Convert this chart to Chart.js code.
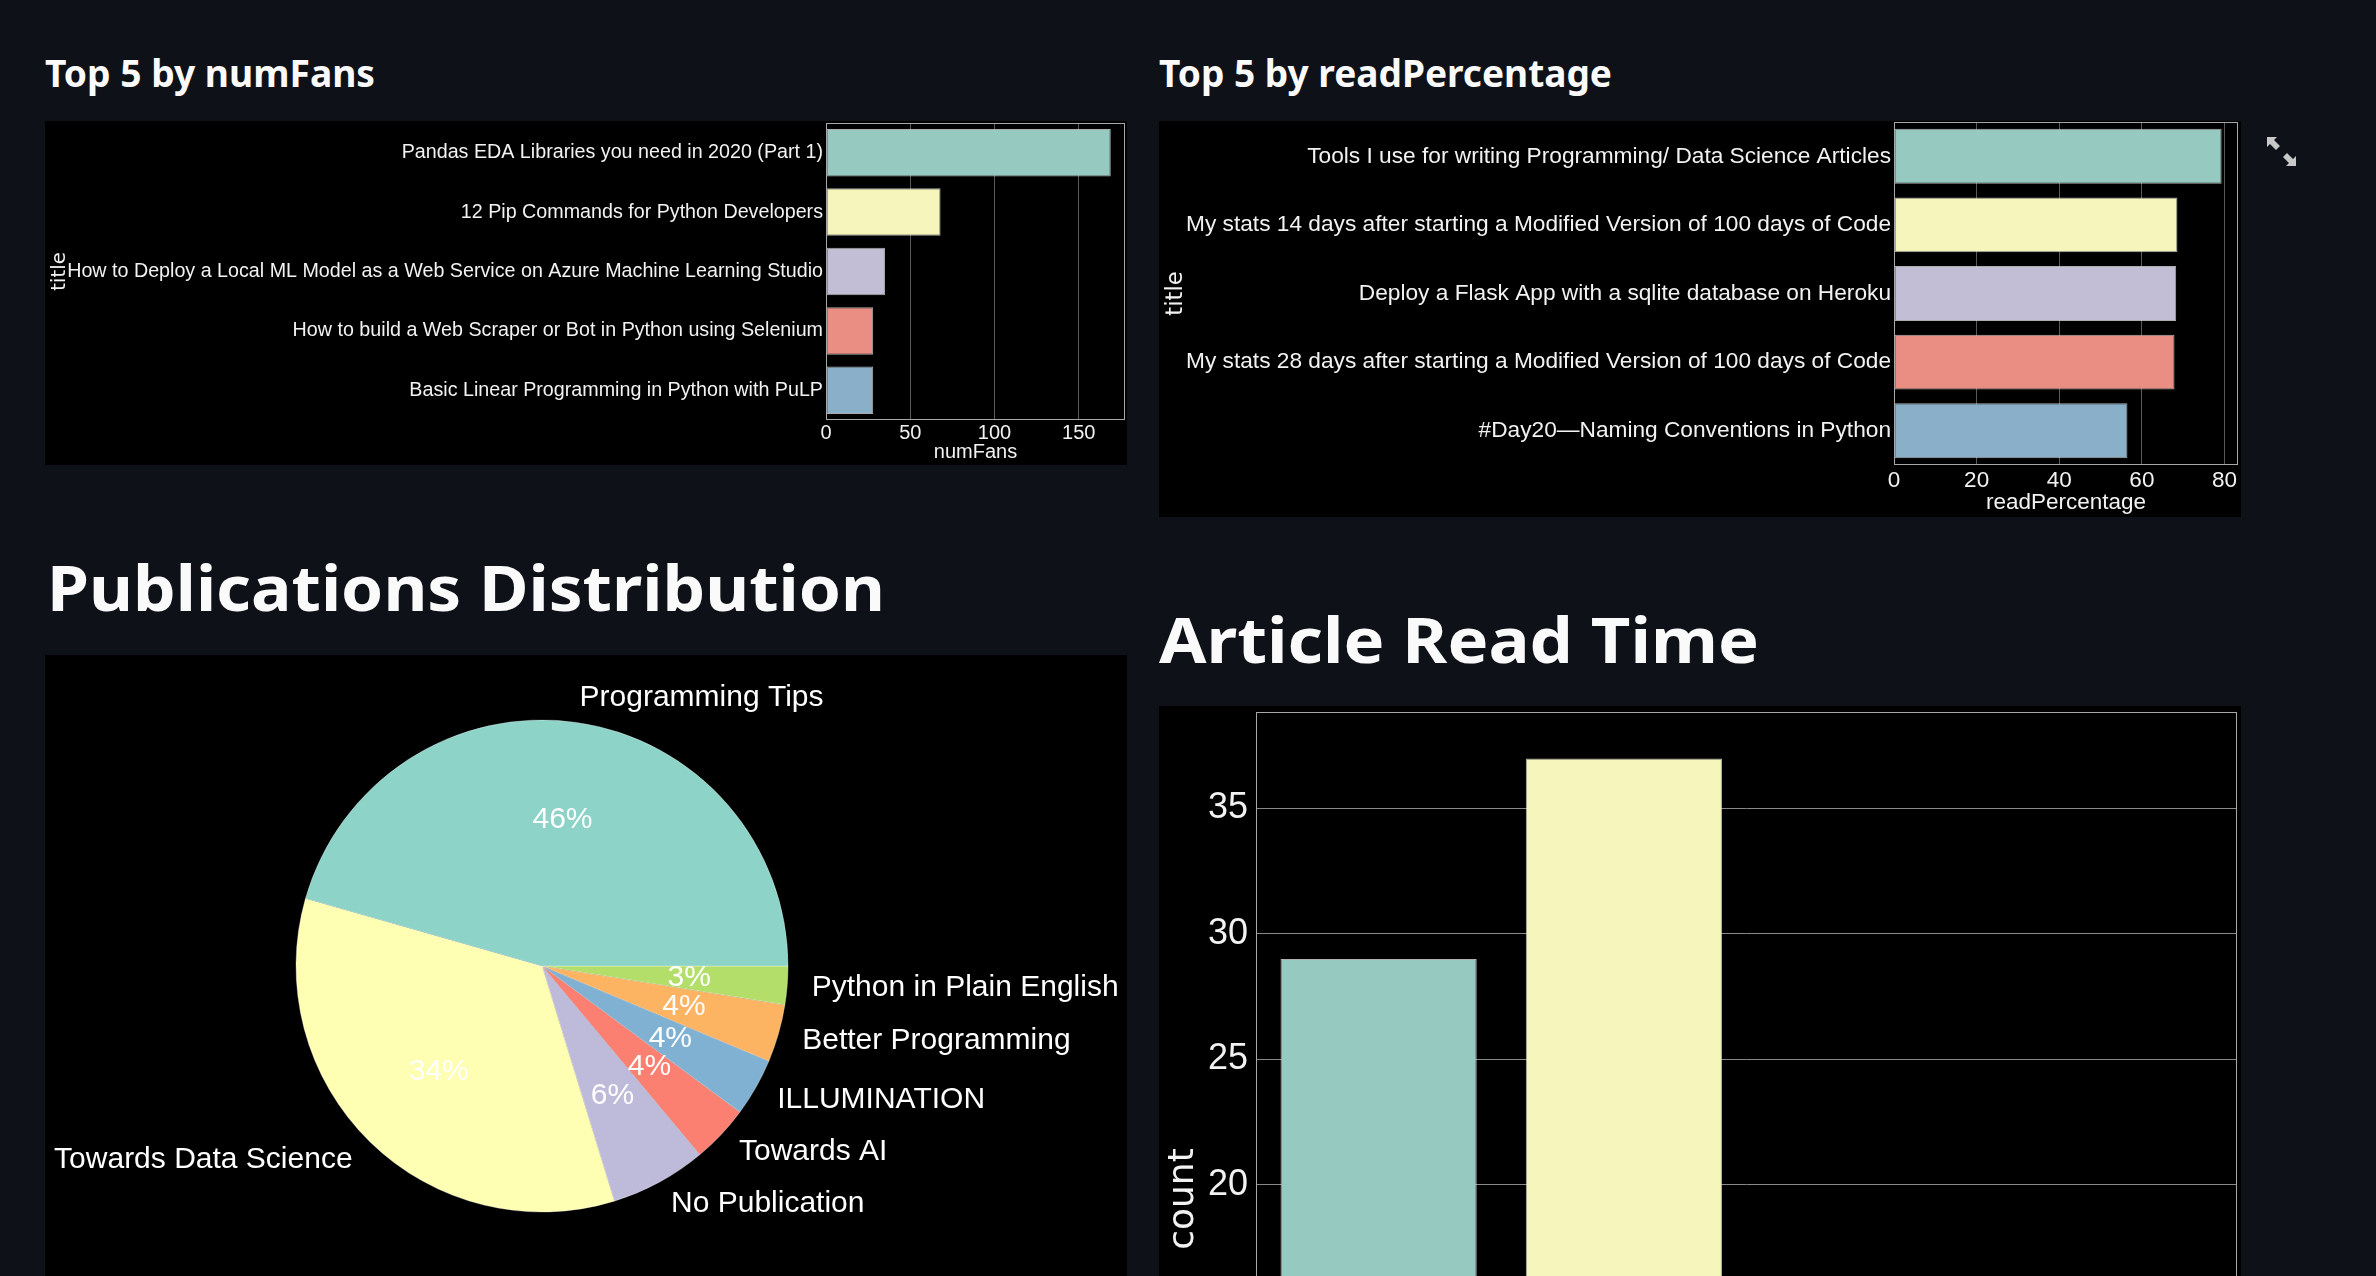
<!DOCTYPE html>
<html>
<head>
<meta charset="utf-8">
<script src="https://cdn.jsdelivr.net/npm/chart.js@4.4.1/dist/chart.umd.min.js"></script>
<style>
  html, body { margin: 0; padding: 0; }
  body {
    width: 2376px; height: 1276px; overflow: hidden; position: relative;
    background: #0e1117; color: #fafafa;
    font-family: "Noto Sans", "Open Sans", sans-serif;
  }
  .hd {
    position: absolute; margin: 0; white-space: nowrap; line-height: 1;
    font-weight: 700; transform-origin: 0 0; display: inline-block;
  }
  .h3 { font-size: 38px; }
  .h1 { font-size: 62px; }
  canvas { position: absolute; background: #000; }
  #expand { position: absolute; left: 2267px; top: 137px; }
</style>
</head>
<body>
<div class="hd h3" id="t1" style="left:45px; top:53px" data-w="330">Top 5 by numFans</div>
<div class="hd h3" id="t2" style="left:1159px; top:53px" data-w="453">Top 5 by readPercentage</div>
<div class="hd h1" id="t3" style="left:47px; top:556px" data-w="838">Publications Distribution</div>
<div class="hd h1" id="t4" style="left:1159px; top:608px" data-w="600">Article Read Time</div>

<canvas id="fans" width="1082" height="344" style="left:45px; top:121px"></canvas>
<canvas id="reads" width="1082" height="396" style="left:1159px; top:121px"></canvas>
<canvas id="pubs" width="1082" height="660" style="left:45px; top:655px"></canvas>
<canvas id="readTime" width="1082" height="1076" style="left:1159px; top:706px"></canvas>

<svg id="expand" width="30" height="30" viewBox="0 0 30 30">
  <polygon fill="#c8c8c8" points="0,0 10,0 7,3 13,9 9,13 3,7 0,10"/>
  <polygon fill="#c8c8c8" points="29,29 19,29 22,26 16,20 20,16 26,22 29,19"/>
</svg>

<script>
// top 5 by numFans
const fanTitles = [
  "Pandas EDA Libraries you need in 2020 (Part 1)",
  "12 Pip Commands for Python Developers",
  "How to Deploy a Local ML Model as a Web Service on Azure Machine Learning Studio",
  "How to build a Web Scraper or Bot in Python using Selenium",
  "Basic Linear Programming in Python with PuLP"
];
const fanCounts = [169, 68, 35, 28, 28];
const fanTicks = [0, 50, 100, 150];

// top 5 by readPercentage
const readTitles = [
  "Tools I use for writing Programming/ Data Science Articles",
  "My stats 14 days after starting a Modified Version of 100 days of Code",
  "Deploy a Flask App with a sqlite database on Heroku",
  "My stats 28 days after starting a Modified Version of 100 days of Code",
  "#Day20\u2014Naming Conventions in Python"
];
const readPcts = [79.3, 68.6, 68.3, 67.9, 56.5];
const readTicks = [0, 20, 40, 60, 80];

// publications pie
const pubNames = ["Programming Tips", "Towards Data Science", "No Publication", "Towards AI",
  "ILLUMINATION", "Better Programming", "Python in Plain English"];
const pubCounts = [36, 27, 5, 3, 3, 3, 2];

// article read time
const readTimeBins = ["0-5 min", "5-10 min", "10-15 min", "15+ min"];
const readTimeCounts = [29, 37, 10, 3];
const readTimeTicks = [0, 5, 10, 15, 20, 25, 30, 35];

const set3 = ["#8dd3c7", "#ffffb3", "#bebada", "#fb8072", "#80b1d3", "#fdb462", "#b3de69"];
const set3Muted = ["#96cac1", "#f5f5bc", "#c1bed6", "#ea8e83", "#8aafc9"];

Chart.defaults.font.family = '"Liberation Sans", Arial, sans-serif';
Chart.defaults.font.lineHeight = 1.15;
Chart.defaults.color = "#f2f2f2";

const framePlugin = {
  id: "frame",
  afterDatasetsDraw(chart) {
    const { ctx, chartArea: a } = chart;
    ctx.save();
    ctx.strokeStyle = "#a8a8a8";
    ctx.lineWidth = 1;
    ctx.strokeRect(a.left + 0.5, a.top + 0.5, a.width - 1, a.height - 1);
    ctx.restore();
  }
};

// fixed box size, no extra room for overhanging labels
function fixBox(prop, size) {
  return s => {
    s[prop] = size;
    s.paddingTop = 0; s.paddingBottom = 0; s.paddingLeft = 0; s.paddingRight = 0;
  };
}

function hbar(id, labels, values, ticks, opt) {
  const max = Math.max(...values) * 1.05;
  return new Chart(document.getElementById(id), {
    type: "bar",
    data: {
      labels: labels,
      datasets: [{
        data: values,
        backgroundColor: set3Muted,
        borderColor: "rgba(215,215,215,0.8)",
        borderWidth: 1,
        borderSkipped: false,
        categoryPercentage: 0.8,
        barPercentage: 1.0
      }]
    },
    options: {
      indexAxis: "y",
      responsive: false,
      animation: false,
      layout: { padding: opt.pad },
      plugins: { legend: { display: false }, tooltip: { enabled: false } },
      scales: {
        x: {
          min: 0, max: max,
          afterBuildTicks: s => { s.ticks = ticks.map(v => ({ value: v })); },
          ticks: { font: { size: opt.fs }, padding: opt.xpad, color: "#f2f2f2" },
          grid: { color: "#5a5a5a", drawTicks: false },
          border: { display: false },
          title: { display: true, text: opt.xTitle, font: { size: opt.fs }, padding: { top: 0, bottom: 1 }, color: "#f2f2f2" },
          afterFit: fixBox("height", opt.xh)
        },
        y: {
          ticks: { font: { size: opt.ls }, padding: 3, color: "#f2f2f2", autoSkip: false },
          grid: { display: false, drawTicks: false },
          border: { display: false },
          title: { display: true, text: "title", font: { family: '"DejaVu Sans", sans-serif', size: opt.ls }, color: "#f2f2f2" },
          afterFit: fixBox("width", opt.yw)
        }
      }
    },
    plugins: [framePlugin]
  });
}

hbar("fans", fanTitles, fanCounts, fanTicks,
  { pad: { top: 2, right: 2 }, fs: 20, ls: 19.7, xpad: 2, xh: 45, yw: 781, xTitle: "numFans" });
hbar("reads", readTitles, readPcts, readTicks,
  { pad: { top: 1, right: 3 }, fs: 22.5, ls: 22.7, xpad: 3, xh: 52, yw: 735, xTitle: "readPercentage" });

// pie: matplotlib draws counter-clockwise from 3 o'clock, chart.js clockwise
const pieLabels = {
  id: "pieLabels",
  afterDatasetsDraw(chart) {
    const ctx = chart.ctx;
    const meta = chart.getDatasetMeta(0);
    const data = chart.data.datasets[0].data;
    const total = data.reduce((a, b) => a + b, 0);
    ctx.save();
    ctx.font = '30px "Liberation Sans", Arial, sans-serif';
    ctx.fillStyle = "#ffffff";
    ctx.textBaseline = "middle";
    meta.data.forEach((arc, i) => {
      const p = arc.getProps(["x", "y", "startAngle", "endAngle", "outerRadius"], true);
      const mid = (p.startAngle + p.endAngle) / 2;
      const c = Math.cos(mid), s = Math.sin(mid);
      ctx.textAlign = c > 0 ? "left" : "right";
      ctx.fillText(chart.data.labels[i], p.x + c * p.outerRadius * 1.1, p.y + s * p.outerRadius * 1.1);
      ctx.textAlign = "center";
      ctx.fillText(Math.round(data[i] / total * 100) + "%", p.x + c * p.outerRadius * 0.6, p.y + s * p.outerRadius * 0.6);
    });
    ctx.restore();
  }
};

new Chart(document.getElementById("pubs"), {
  type: "pie",
  data: {
    labels: pubNames.slice().reverse(),
    datasets: [{
      data: pubCounts.slice().reverse(),
      backgroundColor: set3.slice().reverse(),
      borderColor: "rgba(255,255,255,0.55)",
      borderWidth: 0.6,
      hoverOffset: 0
    }]
  },
  options: {
    responsive: false,
    animation: false,
    rotation: 90,
    radius: 246,
    layout: { padding: { left: 251, right: 339, top: 65, bottom: 103 } },
    plugins: { legend: { display: false }, tooltip: { enabled: false } }
  },
  plugins: [pieLabels]
});

new Chart(document.getElementById("readTime"), {
  type: "bar",
  data: {
    labels: readTimeBins,
    datasets: [{
      data: readTimeCounts,
      backgroundColor: set3Muted,
      borderColor: "rgba(220,220,220,0.8)",
      borderWidth: 1,
      borderSkipped: false,
      categoryPercentage: 0.8,
      barPercentage: 1.0
    }]
  },
  options: {
    responsive: false,
    animation: false,
    layout: { padding: { top: 6, right: 4 } },
    plugins: { legend: { display: false }, tooltip: { enabled: false } },
    scales: {
      x: {
        ticks: { font: { size: 36 }, padding: 8, color: "#f2f2f2" },
        grid: { display: false, drawTicks: false },
        border: { display: false },
        title: { display: true, text: "readTime", font: { family: '"DejaVu Sans", sans-serif', size: 36 }, color: "#f2f2f2" },
        afterFit: fixBox("height", 96)
      },
      y: {
        min: 0, max: Math.max(...readTimeCounts) * 1.05,
        afterBuildTicks: s => { s.ticks = readTimeTicks.map(v => ({ value: v })); },
        ticks: { font: { size: 36 }, padding: 8, color: "#f2f2f2" },
        grid: { color: "#8a8a8a", drawTicks: false },
        border: { display: false },
        title: { display: true, text: "count", font: { family: '"DejaVu Sans", sans-serif', size: 36 }, color: "#f2f2f2" },
        afterFit: fixBox("width", 97)
      }
    }
  },
  plugins: [framePlugin]
});

// stretch headings to the widths seen in the reference
function fitHeadings() {
  document.querySelectorAll(".hd").forEach(el => {
    el.style.transform = "none";
    const w = el.getBoundingClientRect().width;
    el.style.transform = "scaleX(" + (parseFloat(el.dataset.w) / w) + ")";
  });
}
fitHeadings();
if (document.fonts && document.fonts.ready) document.fonts.ready.then(fitHeadings);
</script>
</body>
</html>
